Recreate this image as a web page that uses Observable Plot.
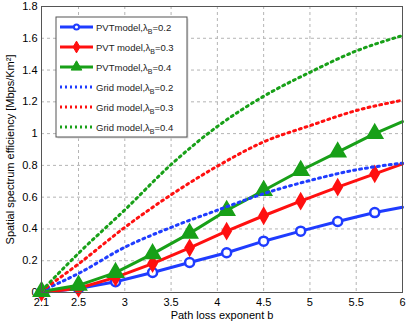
<!DOCTYPE html>
<html><head><meta charset="utf-8">
<script src="https://cdn.jsdelivr.net/npm/d3@7"></script>
<script src="https://cdn.jsdelivr.net/npm/@observablehq/plot@0.6"></script>
<style>body{margin:0;background:#fff} svg{display:block}</style>
</head><body><div id="chart"></div>
<script>
// PVT model (markers every 0.4, line continues to 6)
const pvtX   = [2.1, 2.5, 2.9, 3.3, 3.7, 4.1, 4.5, 4.9, 5.3, 5.7, 6.0];
const pvt02  = [0.0, 0.025, 0.068, 0.126, 0.189, 0.25, 0.323, 0.386, 0.447, 0.503, 0.537];
const pvt03  = [0.0, 0.027, 0.095, 0.182, 0.281, 0.386, 0.483, 0.575, 0.663, 0.747, 0.81];
const pvt04  = [0.006, 0.045, 0.125, 0.243, 0.372, 0.516, 0.642, 0.768, 0.883, 1.0, 1.076];
// Grid model (dotted)
const gridX  = [2.1, 2.5, 3.0, 3.5, 4.0, 4.5, 5.0, 5.5, 6.0];
const grid02 = [0.01, 0.12, 0.285, 0.41, 0.518, 0.622, 0.705, 0.772, 0.814];
const grid03 = [0.01, 0.18, 0.41, 0.615, 0.795, 0.948, 1.05, 1.145, 1.21];
const grid04 = [0.01, 0.247, 0.52, 0.805, 1.045, 1.235, 1.386, 1.52, 1.617];
const xTicks = [2.1, 2.5, 3, 3.5, 4, 4.5, 5, 5.5, 6];
const yTicks = [0, 0.2, 0.4, 0.6, 0.8, 1, 1.2, 1.4, 1.6, 1.8];
const seriesNames = ["PVTmodel,λ", "PVT model,λ", "PVTmodel,λ", "Grid model,λ", "Grid model,λ", "Grid model,λ"];
const lambdaLabels = ["=0.2", "=0.3", "=0.4", "=0.2", "=0.3", "=0.4"];

const BLUE = "#1f3cff", RED = "#ff1010", GREEN = "#18a018";
const DOT = "2,4";

const rows = (xs, ys) => xs.map((x, i) => ({x, y: ys[i]}));
const markerRows = (xs, ys) => rows(xs, ys).slice(0, xs.length - 1);

const chart = Plot.plot({
  width: 409, height: 321,
  marginLeft: 41, marginRight: 7, marginTop: 6, marginBottom: 29,
  style: {fontFamily: "'Liberation Sans', Arial, sans-serif", fontSize: "11px", color: "#000", background: "#fff"},
  x: {domain: [2.1, 6]},
  y: {domain: [0, 1.8]},
  marks: [
    Plot.gridX(xTicks, {stroke: "#b4b4b4", strokeOpacity: 1, strokeDasharray: "3,3"}),
    Plot.gridY(yTicks, {stroke: "#b4b4b4", strokeOpacity: 1, strokeDasharray: "3,3"}),
    Plot.axisX({ticks: xTicks, tickSize: 0, tickPadding: 6, tickFormat: d => String(d),
      label: "Path loss exponent b", labelAnchor: "center", labelArrow: "none", labelOffset: 26}),
    Plot.axisY({ticks: yTicks, tickSize: 0, tickPadding: 4, tickFormat: d => String(d),
      label: "Spatial spectrum efficiency [Mbps/Km²]", labelAnchor: "center", labelArrow: "none", labelOffset: 35}),
    Plot.line(rows(pvtX, pvt02), {x: "x", y: "y", stroke: BLUE, strokeWidth: 3}),
    Plot.dot(markerRows(pvtX, pvt02), {x: "x", y: "y", symbol: "circle", r: 4.5, stroke: BLUE, strokeWidth: 2.5, fill: "#fff"}),
    Plot.line(rows(pvtX, pvt03), {x: "x", y: "y", stroke: RED, strokeWidth: 3}),
    Plot.dot(markerRows(pvtX, pvt03), {x: "x", y: "y", symbol: "diamond", r: 4.5, stroke: RED, strokeWidth: 2, fill: RED}),
    Plot.line(rows(pvtX, pvt04), {x: "x", y: "y", stroke: GREEN, strokeWidth: 3}),
    Plot.dot(markerRows(pvtX, pvt04), {x: "x", y: "y", symbol: "triangle", r: 6, stroke: GREEN, strokeWidth: 1.5, fill: GREEN}),
    Plot.line(rows(gridX, grid02), {x: "x", y: "y", stroke: BLUE, strokeWidth: 3, strokeDasharray: DOT, curve: "monotone-x"}),
    Plot.line(rows(gridX, grid03), {x: "x", y: "y", stroke: RED, strokeWidth: 3, strokeDasharray: DOT, curve: "monotone-x"}),
    Plot.line(rows(gridX, grid04), {x: "x", y: "y", stroke: GREEN, strokeWidth: 3, strokeDasharray: DOT, curve: "monotone-x"}),
    Plot.frame({stroke: "#555", strokeWidth: 1})
  ]
});
document.getElementById("chart").appendChild(chart);

// Legend
const svg = d3.select(chart);
const lg = svg.append("g").attr("transform", "translate(56,17)").attr("text-anchor", "start");
lg.append("rect").attr("x", 1.5).attr("y", 1.5).attr("width", 131).attr("height", 120).attr("fill", "#ddd");
lg.append("rect").attr("width", 131).attr("height", 120).attr("fill", "#fff").attr("stroke", "#555");
const colors = [BLUE, RED, GREEN, BLUE, RED, GREEN];
const syms = [d3.symbolCircle, d3.symbolDiamond, d3.symbolTriangle, null, null, null];
seriesNames.forEach((name, i) => {
  const y = 10 + i * 20;
  const ln = lg.append("line").attr("x1", 4).attr("x2", 37).attr("y1", y).attr("y2", y)
    .attr("stroke", colors[i]).attr("stroke-width", 3);
  if (i >= 3) ln.attr("stroke-dasharray", "2,3");
  if (syms[i]) {
    const p = lg.append("path").attr("transform", `translate(20.5,${y})`)
      .attr("d", d3.symbol(syms[i], i === 0 ? 20 : i === 1 ? 40 : 50)());
    if (i === 0) p.attr("fill", "#fff").attr("stroke", BLUE).attr("stroke-width", 2);
    else p.attr("fill", colors[i]).attr("stroke", colors[i]).attr("stroke-width", 1);
  }
  const t = lg.append("text").attr("x", 40).attr("y", y + 3.5).attr("text-anchor", "start")
    .attr("font-size", "9.5px").attr("fill", "#222");
  t.append("tspan").text(name);
  t.append("tspan").attr("dy", 3).attr("font-size", "7px").text("B");
  t.append("tspan").attr("dy", -3).text(lambdaLabels[i]);
});
</script>
</body></html>
